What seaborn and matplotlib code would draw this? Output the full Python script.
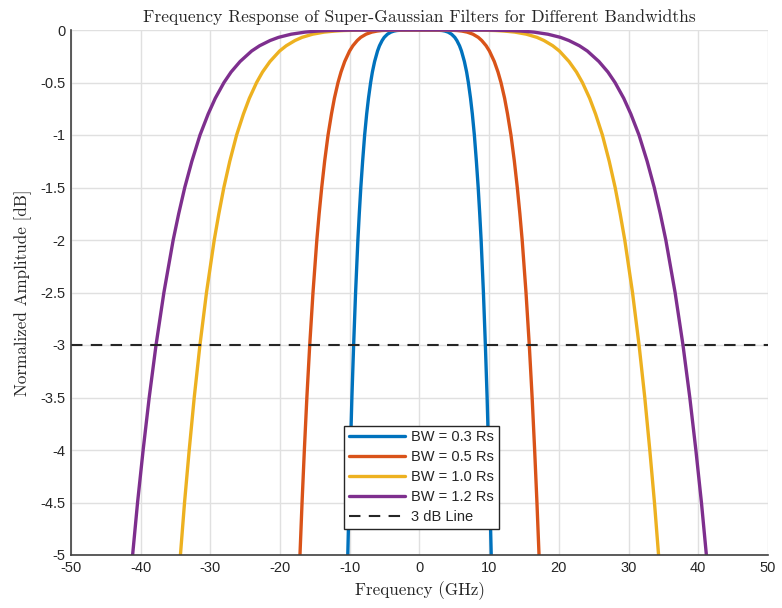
import numpy as np
import pandas as pd
import matplotlib
matplotlib.use("Agg")
import matplotlib.pyplot as plt
import seaborn as sns
from matplotlib.lines import Line2D

# Attenuation levels (dB) at which each filter edge is tabulated
levels_db = [0, -0.001, -0.005, -0.01, -0.02, -0.04, -0.07, -0.1, -0.15, -0.2,
             -0.3, -0.4, -0.5, -0.65, -0.8, -1.0, -1.25, -1.5, -1.75, -2.0,
             -2.5, -3.0, -3.5, -4.0, -4.5, -5.0]

# Positive-frequency edge (GHz) of each filter at the levels above
edge_bw03 = [0, 2.49, 3.25, 3.65, 4.10, 4.60, 5.06, 5.36, 5.74, 6.02,
             6.44, 6.76, 7.01, 7.32, 7.58, 7.87, 8.16, 8.42, 8.64, 8.84,
             9.17, 9.45, 9.70, 9.91, 10.11, 10.29]
edge_bw05 = [0, 4.14, 5.42, 6.08, 6.84, 7.67, 8.43, 8.93, 9.56, 10.03,
             10.73, 11.26, 11.69, 12.21, 12.63, 13.12, 13.61, 14.03, 14.40, 14.73,
             15.28, 15.75, 16.16, 16.52, 16.85, 17.15]
edge_bw10 = [0, 8.28, 10.84, 12.16, 13.67, 15.34, 16.85, 17.86, 19.12, 20.07,
             21.45, 22.52, 23.37, 24.41, 25.26, 26.24, 27.22, 28.07, 28.79, 29.45,
             30.56, 31.50, 32.32, 33.04, 33.71, 34.30]
edge_bw12 = [0, 9.94, 13.00, 14.59, 16.41, 18.41, 20.22, 21.43, 22.94, 24.08,
             25.74, 27.03, 28.05, 29.30, 30.32, 31.49, 32.66, 33.68, 34.55, 35.34,
             36.67, 37.80, 38.78, 39.65, 40.45, 41.16]

labels = ["BW = 0.3 Rs", "BW = 0.5 Rs", "BW = 1.0 Rs", "BW = 1.2 Rs"]
edges = [edge_bw03, edge_bw05, edge_bw10, edge_bw12]
colors = ["#0072BD", "#D95319", "#EDB120", "#7E2F8E"]

# Build symmetric responses (negative side mirrored) in long form
frames = []
for lab, edge in zip(labels, edges):
    e = np.asarray(edge)
    lv = np.asarray(levels_db)
    f = np.concatenate([-e[::-1], e[1:]])
    a = np.concatenate([lv[::-1], lv[1:]])
    frames.append(pd.DataFrame({"freq": f, "amp": a, "filter": lab}))
df = pd.concat(frames, ignore_index=True)

sns.set_style("white")
plt.rcParams["font.family"] = ["Liberation Sans", "DejaVu Sans"]
plt.rcParams["axes.unicode_minus"] = False

fig = plt.figure(figsize=(7.82, 6.08), dpi=100)
ax = fig.add_axes([71 / 782, 1 - 555 / 608, 697 / 782, 525 / 608])

sns.lineplot(data=df, x="freq", y="amp", hue="filter", hue_order=labels,
             palette=colors, sort=False, linewidth=2.4, ax=ax, legend=False)
ax.axhline(-3, color="#262626", linestyle=(0, (5.5, 4.0)), linewidth=1.5)

ax.set_xlim(-50, 50)
ax.set_ylim(-5, 0)
xt = np.arange(-50, 51, 10)
yt = np.arange(-5, 0.01, 0.5)
ax.set_xticks(xt)
ax.set_yticks(yt)
ax.set_xticklabels([f"{v:g}" for v in xt])
ax.set_yticklabels([f"{v:g}" for v in yt])
ax.grid(True, color="#e0e0e0", linewidth=1.0)
ax.set_axisbelow(True)

for s in ["top", "right"]:
    ax.spines[s].set_visible(False)
for s in ["left", "bottom"]:
    ax.spines[s].set_color("#404040")
    ax.spines[s].set_linewidth(1.2)
ax.tick_params(direction="in", length=5, width=1.2, color="#404040",
               labelsize=10.5, labelcolor="#262626", pad=4)

serif = {"family": "cmr10"}
ax.set_title("Frequency Response of Super-Gaussian Filters for Different Bandwidths",
             fontdict=serif, fontsize=12.6, color="#262626", pad=6)
ax.set_xlabel("Frequency (GHz)", fontdict=serif, fontsize=12.3, color="#262626", labelpad=5)
ax.set_ylabel("Normalized Amplitude [dB]", fontdict=serif, fontsize=12.3, color="#262626", labelpad=6)

handles = [Line2D([], [], color=c, lw=2.4) for c in colors]
handles.append(Line2D([], [], color="#262626", lw=1.5, linestyle=(0, (5.5, 4.0))))
leg = ax.legend(handles, labels + ["3 dB Line"], loc="lower left",
                bbox_to_anchor=(0.392, 0.05), fontsize=10.5, handlelength=3.9,
                labelspacing=0.42, handletextpad=0.4, borderpad=0.3,
                frameon=True, fancybox=False, framealpha=1, borderaxespad=0)
leg.get_frame().set_edgecolor("#262626")
leg.get_frame().set_linewidth(1.0)

fig.savefig("out.png", dpi=100)
